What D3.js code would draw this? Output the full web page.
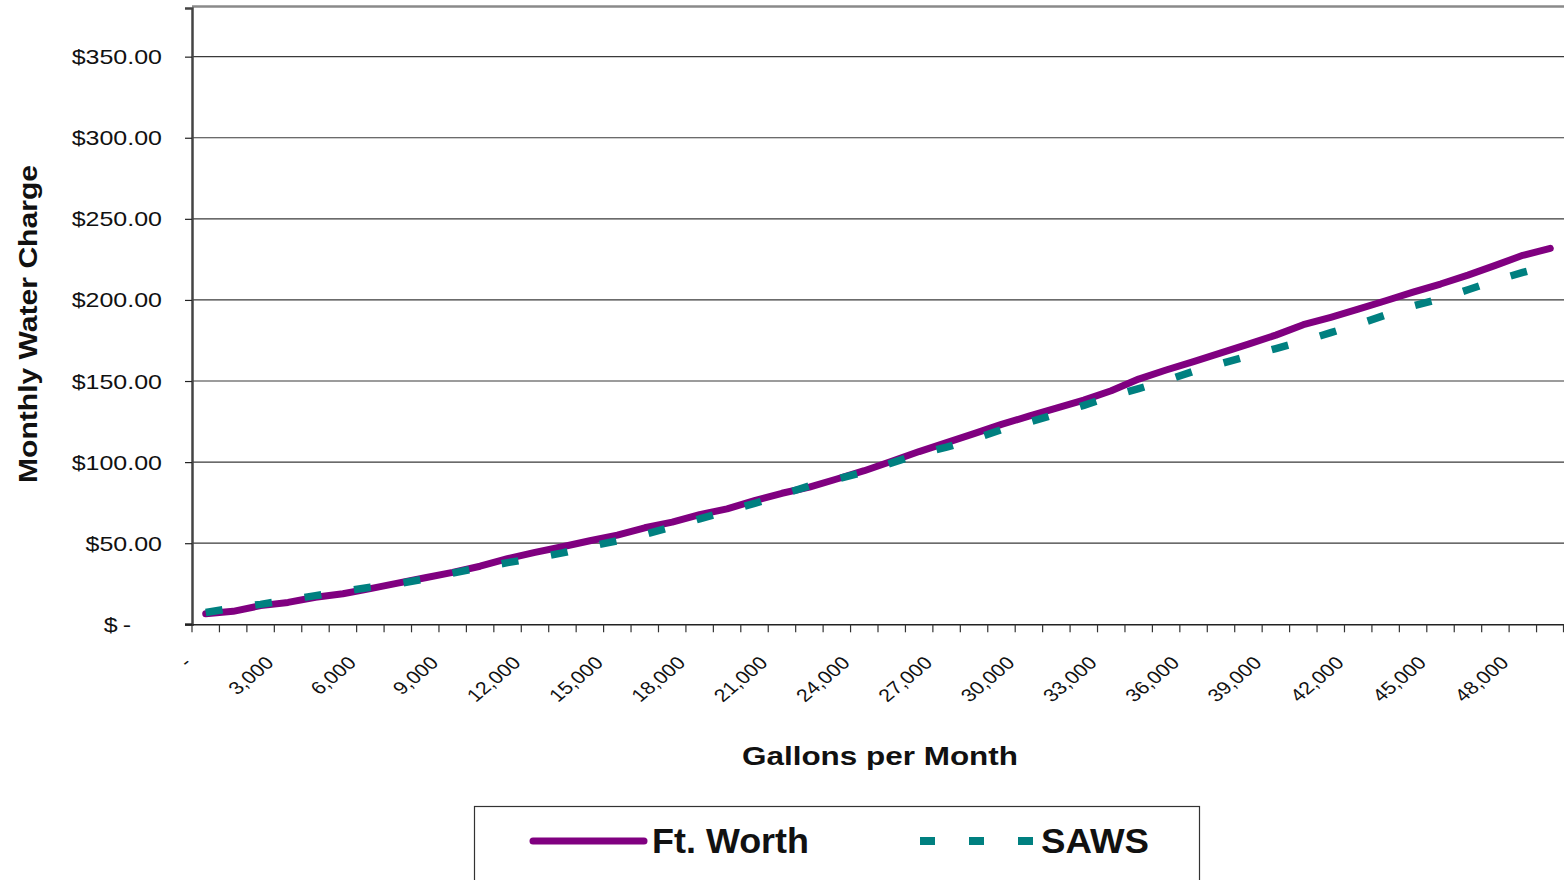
<!DOCTYPE html>
<html>
<head>
<meta charset="utf-8">
<script src="https://cdn.jsdelivr.net/npm/d3@7"></script>
<style>
  html, body { margin: 0; padding: 0; background: #fff; }
  svg { display: block; font-family: "Liberation Sans", Arial, sans-serif; }
</style>
</head>
<body>
<svg id="chart" width="1564" height="880"></svg>
<script>
// ---- data ----
const categories = [0,1000,2000,3000,4000,5000,6000,7000,8000,9000,
  10000,11000,12000,13000,14000,15000,16000,17000,18000,19000,
  20000,21000,22000,23000,24000,25000,26000,27000,28000,29000,
  30000,31000,32000,33000,34000,35000,36000,37000,38000,39000,
  40000,41000,42000,43000,44000,45000,46000,47000,48000,49000];

const ftWorth = [6.5,8.0,11.5,13.5,16.7,18.8,22.0,25.4,28.7,32.0,
  35.8,40.5,44.3,47.8,51.5,55.0,59.5,63.0,67.6,71.2,
  76.2,80.8,84.6,89.6,94.7,100.5,106.5,112.0,117.6,123.3,
  128.3,133.3,138.2,144.0,151.2,156.8,162.0,167.4,172.8,178.3,
  184.7,189.3,194.3,199.5,204.8,209.8,215.3,221.3,227.5,231.8];

const saws = [7.3,10.0,12.3,15.0,17.7,20.3,22.8,25.0,28.0,31.6,
  35.0,38.0,40.8,44.0,48.0,51.5,55.5,60.0,65.0,69.8,
  74.5,80.0,85.3,89.5,94.0,99.5,105.0,109.2,114.3,120.0,
  124.6,129.6,135.0,140.5,145.3,150.3,156.0,160.7,165.5,170.0,
  174.7,179.8,185.0,190.7,196.3,200.8,206.3,212.0,217.0,221.5];

const labelCategories = [0,3000,6000,9000,12000,15000,18000,21000,24000,27000,30000,33000,36000,39000,42000,45000,48000];
const xTickLabels = ["-","3,000","6,000","9,000","12,000","15,000","18,000","21,000","24,000","27,000","30,000","33,000","36,000","39,000","42,000","45,000","48,000"];
const yTickValues = [0,50,100,150,200,250,300,350];
const seriesNames = ["Ft. Worth","SAWS"];

// ---- layout ----
const svg = d3.select("#chart");
const plotLeft = 192, plotRight = 1564, plotTop = 8, plotBottom = 624.3;
const x = d3.scaleBand().domain(categories).range([plotLeft, plotRight]).padding(0);
const y = d3.scaleLinear().domain([0, 380]).range([plotBottom, plotTop]);
const bw = x.bandwidth();
const cx = c => x(c) + bw / 2;

// grid lines
svg.append("g").selectAll("line").data(yTickValues.filter(v => v > 0)).join("line")
  .attr("x1", plotLeft).attr("x2", plotRight)
  .attr("y1", d => y(d)).attr("y2", d => y(d))
  .attr("stroke", "#3a3a3a").attr("stroke-width", 1.2);

// top border
svg.append("line").attr("x1", plotLeft).attr("x2", plotRight).attr("y1", 6.5).attr("y2", 6.5)
  .attr("stroke", "#8a8a8a").attr("stroke-width", 2.5);

// y axis
const yAxis = d3.axisLeft(y).tickValues(yTickValues).tickSize(7).tickFormat("");
const gy = svg.append("g").attr("transform", `translate(${plotLeft},0)`).call(yAxis);
gy.select(".domain").attr("stroke", "#444").attr("stroke-width", 2.5);
gy.selectAll(".tick line").attr("stroke", "#222").attr("stroke-width", 1.2);

// y labels (horizontally stretched like the original)
const fmt = d3.format(",.2f");
svg.append("g").selectAll("g").data(yTickValues).join("g")
  .attr("transform", d => `translate(${d === 0 ? 131 : 162},${y(d) + 7.5}) scale(1.19,1)`)
  .append("text")
  .attr("text-anchor", "end")
  .attr("font-size", 21)
  .attr("fill", "#111")
  .text(d => d === 0 ? "$\u2009-" : "$" + fmt(d));

// x axis
const xAxis = d3.axisBottom(x).tickSize(0).tickFormat("");
const gx = svg.append("g").attr("transform", `translate(0,${plotBottom})`).call(xAxis);
gx.select(".domain").attr("stroke", "#222").attr("stroke-width", 1.5);
// tick marks at category boundaries
svg.append("g").selectAll("line").data(categories.concat(["end"])).join("line")
  .attr("x1", d => d === "end" ? plotRight - 0.5 : x(d))
  .attr("x2", d => d === "end" ? plotRight - 0.5 : x(d))
  .attr("y1", plotBottom).attr("y2", plotBottom + 8)
  .attr("stroke", "#333").attr("stroke-width", 1.2);
svg.append("line").attr("x1", plotLeft - 7).attr("x2", plotLeft).attr("y1", plotBottom).attr("y2", plotBottom)
  .attr("stroke", "#222").attr("stroke-width", 1.5);

// x tick labels
svg.append("g").selectAll("g").data(labelCategories).join("g")
  .attr("transform", d => `translate(${cx(d) - 13},664) scale(1.19,1) rotate(-45)`)
  .append("text")
  .attr("text-anchor", "end")
  .attr("font-size", 18)
  .attr("fill", "#111")
  .text((d, i) => xTickLabels[i]);

// series lines
const line = d3.line().x((d, i) => cx(categories[i])).y(d => y(d));
svg.append("path").datum(ftWorth).attr("d", line)
  .attr("fill", "none").attr("stroke", "#800080").attr("stroke-width", 7)
  .attr("stroke-linecap", "round").attr("stroke-linejoin", "round");
svg.append("path").datum(saws).attr("d", line)
  .attr("fill", "none").attr("stroke", "#008080").attr("stroke-width", 7.5)
  .attr("stroke-dasharray", "17,33").attr("stroke-linecap", "butt");

// axis titles
svg.append("text")
  .attr("transform", "translate(37,324) rotate(-90)")
  .attr("text-anchor", "middle")
  .attr("font-size", 25).attr("font-weight", "bold").attr("fill", "#111")
  .attr("textLength", 318).attr("lengthAdjust", "spacingAndGlyphs")
  .text("Monthly Water Charge");
svg.append("text")
  .attr("x", 880).attr("y", 765)
  .attr("text-anchor", "middle")
  .attr("font-size", 26).attr("font-weight", "bold").attr("fill", "#111")
  .attr("textLength", 276).attr("lengthAdjust", "spacingAndGlyphs")
  .text("Gallons per Month");

// legend
const lg = svg.append("g");
lg.append("rect").attr("x", 474.5).attr("y", 806.5).attr("width", 725).attr("height", 90)
  .attr("fill", "#fff").attr("stroke", "#333").attr("stroke-width", 1.2);
lg.append("line").attr("x1", 533).attr("x2", 644).attr("y1", 841).attr("y2", 841)
  .attr("stroke", "#800080").attr("stroke-width", 7).attr("stroke-linecap", "round");
lg.append("text").attr("x", 652).attr("y", 853).attr("font-size", 35).attr("font-weight", "bold")
  .attr("fill", "#111").attr("textLength", 157).attr("lengthAdjust", "spacingAndGlyphs")
  .text(seriesNames[0]);
lg.append("line").attr("x1", 920).attr("x2", 1034).attr("y1", 841).attr("y2", 841)
  .attr("stroke", "#008080").attr("stroke-width", 8).attr("stroke-dasharray", "15,34");
lg.append("text").attr("x", 1041).attr("y", 853).attr("font-size", 35).attr("font-weight", "bold")
  .attr("fill", "#111").attr("textLength", 108).attr("lengthAdjust", "spacingAndGlyphs")
  .text(seriesNames[1]);
</script>
</body>
</html>
